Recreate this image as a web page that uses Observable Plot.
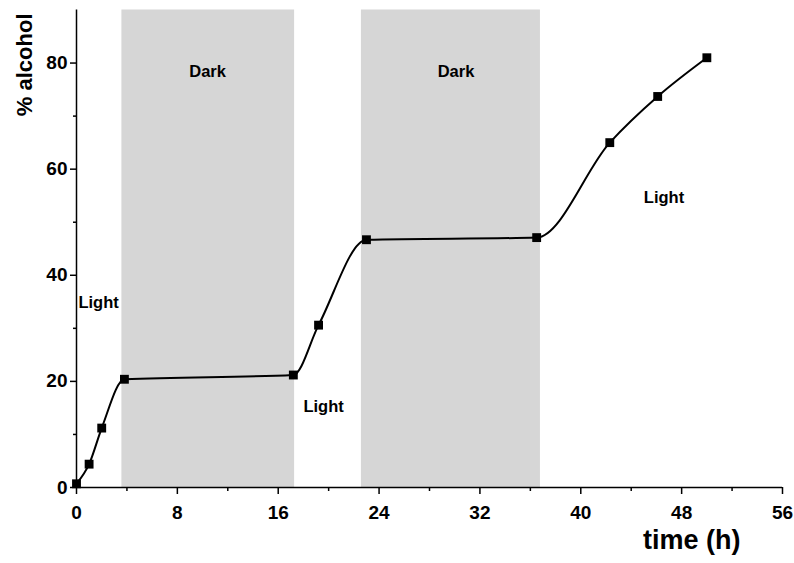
<!DOCTYPE html>
<html>
<head>
<meta charset="utf-8">
<script src="https://cdn.jsdelivr.net/npm/d3@7"></script>
<script src="https://cdn.jsdelivr.net/npm/@observablehq/plot@0.6"></script>
<style>
  body { margin: 0; background: #fff; }
</style>
</head>
<body>
<div id="chart"></div>
<script>
// Measured series
const timeH   = [0, 1, 2, 3.8, 17.2, 19.2, 23.0, 36.5, 42.3, 46.1, 50.0];
const alcohol = [0.7, 4.4, 11.2, 20.4, 21.2, 30.6, 46.7, 47.1, 65.0, 73.7, 81.0];

// Dark periods
const darkStart = [3.6, 22.6];
const darkEnd   = [17.3, 36.8];

// Annotations
const darkLabels  = ["Dark", "Dark"];
const darkLabelX  = [10.4, 30.1];
const darkLabelY  = [78.4, 78.4];
const lightLabels = ["Light", "Light", "Light"];
const lightLabelX = [0.15, 18.0, 45.0];
const lightLabelY = [34.9, 15.3, 54.7];

// Ticks
const xTicks = [0, 8, 16, 24, 32, 40, 48, 56];
const xMinor = [4, 12, 20, 28, 36, 44, 52];
const yTicks = [0, 20, 40, 60, 80];
const yMinor = [10, 30, 50, 70];

const xLabel = "time (h)";
const yLabel = "% alcohol";

const data = timeH.map((t, i) => ({t, a: alcohol[i]}));
const bands = darkStart.map((s, i) => ({x1: s, x2: darkEnd[i]}));

const chart = Plot.plot({
  width: 794,
  height: 563,
  marginLeft: 76,
  marginRight: 12,
  marginTop: 9.5,
  marginBottom: 76,
  x: {domain: [0, 56]},
  y: {domain: [0, 90]},
  style: {
    fontFamily: "'Liberation Sans', Arial, sans-serif",
    fontWeight: "bold",
    fontSize: "16px",
    background: "white",
    color: "black"
  },
  marks: [
    Plot.rect(bands, {x1: "x1", x2: "x2", fill: "#d6d6d6"}),
    Plot.axisX(xTicks, {tickSize: 7, tickPadding: 11, label: null, strokeWidth: 1.5, fontSize: 19}),
    Plot.axisX(xMinor, {tickSize: 4, text: null, label: null, strokeWidth: 1.5}),
    Plot.axisY(yTicks, {tickSize: 6, tickPadding: 3, label: null, strokeWidth: 1.5, fontSize: 19}),
    Plot.axisY(yMinor, {tickSize: 3, text: null, label: null, strokeWidth: 1.5}),
    Plot.ruleY([0], {strokeWidth: 1.5}),
    Plot.ruleX([0], {strokeWidth: 1.5}),
    Plot.line(data, {x: "t", y: "a", curve: "monotone-x", stroke: "black", strokeWidth: 2}),
    Plot.dot(data, {x: "t", y: "a", symbol: "square", r: 5, fill: "black", stroke: null}),
    Plot.text(darkLabels, {x: (d, i) => darkLabelX[i], y: (d, i) => darkLabelY[i], text: d => d, fontSize: 16.5, textAnchor: "middle"}),
    Plot.text(lightLabels, {x: (d, i) => lightLabelX[i], y: (d, i) => lightLabelY[i], text: d => d, fontSize: 16.5, textAnchor: "start"}),
    Plot.text([xLabel], {frameAnchor: "bottom-right", dx: -42, dy: 61, textAnchor: "end", text: d => d, fontSize: 27}),
    Plot.text([yLabel], {frameAnchor: "top-left", dx: -60, dy: 3.5, rotate: -90, textAnchor: "end", text: d => d, fontSize: 22})
  ]
});
document.getElementById("chart").appendChild(chart);
</script>
</body>
</html>
